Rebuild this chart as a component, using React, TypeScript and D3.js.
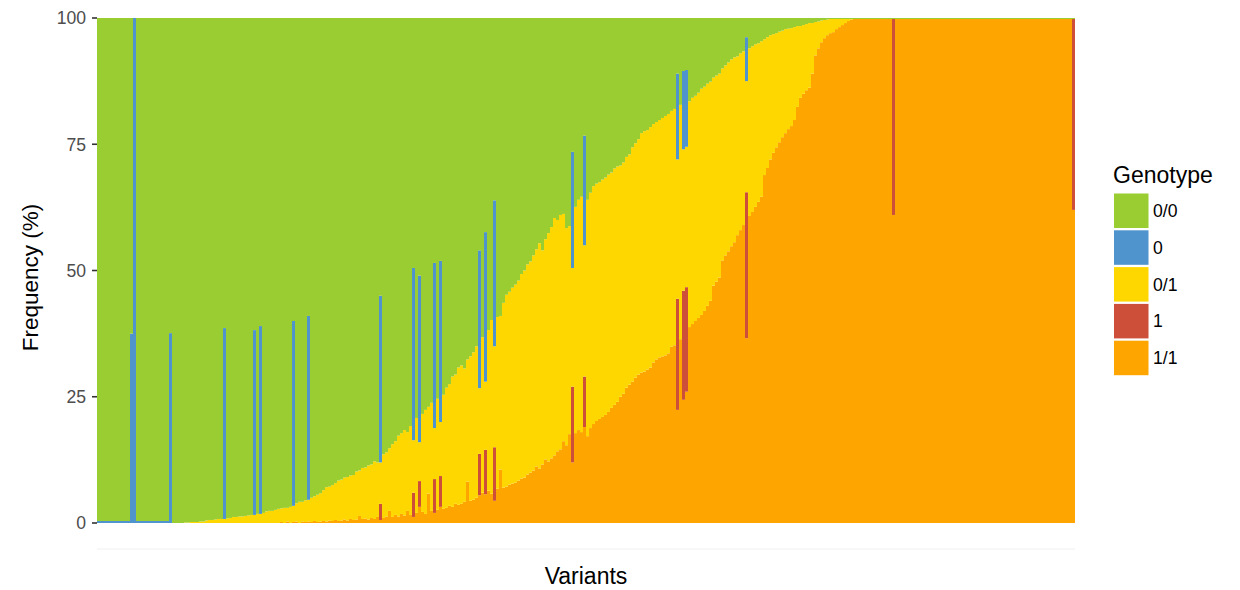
import React from "react";
import * as d3 from "d3";

// Per-variant genotype frequencies (%), variants sorted by alternate-allele load.
const variantCount = 326;

// 0/0 (homozygous reference) share per variant
const homRefPct = [
  99.6, 99.6, 99.6, 99.6, 99.6, 99.6, 99.6, 99.6, 99.6, 99.6,
  99.6, 62.5, 0, 99.6, 99.6, 99.6, 99.6, 99.6, 99.6, 99.6,
  99.6, 99.6, 99.6, 99.6, 62.4, 100, 100, 100, 100, 99.9,
  99.9, 99.8, 99.8, 99.8, 99.7, 99.7, 99.5, 99.4, 99.4, 99.3,
  99.2, 99.2, 61.4, 99.1, 99.0, 98.8, 98.8, 98.7, 98.7, 98.6,
  98.5, 98.4, 61.8, 98.2, 61.0, 98.0, 97.7, 97.6, 97.6, 97.4,
  97.2, 97.1, 97.0, 97.0, 96.8, 60.0, 96.1, 95.8, 95.8, 95.5,
  59.0, 95.0, 94.7, 94.4, 94.1, 93.5, 92.9, 92.8, 92.5, 92.1,
  91.6, 91.4, 91.0, 90.9, 90.6, 90.5, 89.8, 89.6, 89.1, 89.0,
  88.6, 88.4, 87.8, 88.0, 55.0, 86.4, 86.0, 85.2, 84.4, 83.8,
  82.7, 82.2, 81.6, 82.0, 80.8, 49.5, 79.2, 51.0, 78.4, 77.6,
  77.0, 76.2, 48.5, 75.4, 48.1, 74.6, 73.2, 72.5, 71.0, 70.6,
  69.2, 68.8, 69.4, 67.6, 67.0, 66.2, 65.0, 46.0, 63.2, 42.4,
  61.8, 59.8, 36.1, 59.2, 59.0, 56.4, 54.8, 54.2, 53.4, 52.8,
  52.0, 50.7, 50.0, 48.8, 48.2, 47.0, 45.8, 44.6, 46.0, 43.8,
  42.6, 41.4, 39.6, 40.0, 39.0, 38.8, 41.6, 41.2, 26.5, 37.4,
  36.0, 35.4, 23.3, 36.0, 34.6, 33.3, 32.8, 32.5, 32.0, 31.6,
  31.0, 30.6, 29.8, 29.4, 29.2, 28.6, 27.5, 27.0, 25.6, 24.8,
  24.0, 22.8, 22.4, 22.2, 21.6, 21.0, 20.6, 20.2, 19.8, 19.4,
  19.0, 18.4, 18.0, 11.0, 17.2, 10.5, 10.3, 16.5, 15.8, 15.4,
  14.8, 14.0, 13.6, 13.0, 12.6, 11.8, 11.4, 11.0, 10.0, 9.4,
  8.8, 8.2, 7.8, 7.6, 7.0, 6.6, 3.8, 6.0, 5.6, 5.2,
  5.0, 4.6, 4.2, 3.8, 3.4, 3.2, 3.0, 2.7, 2.5, 2.2,
  2.1, 2.0, 1.8, 1.6, 1.6, 1.4, 1.2, 1.0, 1.0, 0.8,
  0.7, 0.5, 0.4, 0.3, 0.2, 0.2, 0.2, 0.2, 0.2, 0.2,
  0.2, 0.2, 0.2, 0.2, 0.2, 0.2, 0.2, 0.2, 0.2, 0.2,
  0.2, 0.2, 0.2, 0.2, 0.2, 0.2, 0.2, 0.2, 0.2, 0.2,
  0.2, 0.2, 0.2, 0.2, 0.2, 0.2, 0.2, 0.2, 0.2, 0.2,
  0.2, 0.2, 0.2, 0.2, 0.2, 0.2, 0.2, 0.2, 0.2, 0.2,
  0.2, 0.2, 0.2, 0.2, 0.2, 0.2, 0.2, 0.2, 0.2, 0.2,
  0.2, 0.2, 0.2, 0.2, 0.2, 0.2, 0.2, 0.2, 0.2, 0.2,
  0.2, 0.2, 0.2, 0.2, 0.2, 0.2, 0.2, 0.2, 0.2, 0.2,
  0.2, 0.2, 0.2, 0.2, 0.2, 0.2,
];

// 1/1 (homozygous alternate) share per variant
const homAltPct = [
  0, 0, 0, 0, 0, 0, 0, 0, 0, 0,
  0, 0, 0, 0, 0, 0, 0, 0, 0, 0,
  0, 0, 0, 0, 0, 0, 0, 0, 0, 0,
  0, 0, 0, 0, 0, 0, 0, 0, 0, 0,
  0, 0, 0, 0, 0, 0, 0, 0, 0, 0,
  0, 0, 0, 0, 0, 0, 0, 0, 0, 0,
  0, 0.2, 0, 0.3, 0, 0.2, 0.3, 0, 0.3, 0.2,
  0.3, 0.2, 0.4, 0.2, 0.3, 0.4, 0.3, 0.5, 0.4, 0.6,
  0.4, 0.5, 0.7, 0.5, 0.8, 0.6, 0.7, 1.4, 0.8, 0.9,
  0.7, 1.0, 0.8, 1.2, 0.6, 1.0, 1.3, 2.4, 1.2, 1.6,
  1.3, 1.8, 1.5, 2.4, 1.6, 1.2, 2.0, 3.2, 2.2, 1.8,
  5.8, 2.4, 2.0, 2.6, 3.2, 2.8, 3.0, 3.4, 3.2, 3.8,
  3.6, 3.8, 4.2, 8.2, 4.4, 4.6, 5.0, 5.5, 6.0, 5.7,
  6.4, 5.8, 4.4, 6.8, 10.6, 7.0, 7.2, 7.6, 7.8, 8.0,
  8.4, 8.8, 9.0, 9.6, 10.0, 10.4, 11.2, 10.8, 11.6, 12.6,
  12.2, 12.8, 13.4, 14.2, 14.6, 16.2, 15.4, 17.6, 12.0, 17.8,
  18.4, 18.0, 19.0, 17.2, 18.8, 19.6, 20.2, 20.6, 21.0, 21.4,
  22.0, 22.8, 23.4, 24.0, 25.0, 25.6, 26.8, 27.4, 28.0, 28.8,
  29.4, 29.8, 30.0, 30.4, 30.8, 31.8, 32.4, 32.8, 33.0, 33.2,
  33.6, 34.9, 35.2, 22.4, 36.4, 24.4, 26.0, 38.8, 39.4, 40.0,
  40.6, 41.2, 42.0, 43.0, 44.0, 47.0, 47.8, 48.6, 52.0, 53.0,
  53.8, 54.8, 55.6, 57.0, 58.0, 59.0, 36.6, 60.8, 61.6, 62.6,
  63.6, 64.6, 68.9, 70.3, 72.0, 73.3, 74.4, 75.4, 76.4, 77.2,
  78.0, 78.6, 79.8, 82.4, 84.2, 85.0, 85.7, 86.2, 89.0, 92.6,
  94.0, 95.2, 96.0, 96.6, 97.0, 97.2, 97.8, 98.2, 98.6, 99.0,
  99.4, 99.7, 99.8, 99.8, 99.8, 99.8, 99.8, 99.8, 99.8, 99.8,
  99.8, 99.8, 99.8, 99.8, 99.8, 61.0, 99.8, 99.8, 99.8, 99.8,
  99.8, 99.8, 99.8, 99.8, 99.8, 99.8, 99.8, 99.8, 99.8, 99.8,
  99.8, 99.8, 99.8, 99.8, 99.8, 99.8, 99.8, 99.8, 99.8, 99.8,
  99.8, 99.8, 99.8, 99.8, 99.8, 99.8, 99.8, 99.8, 99.8, 99.8,
  99.8, 99.8, 99.8, 99.8, 99.8, 99.8, 99.8, 99.8, 99.8, 99.8,
  99.8, 99.8, 99.8, 99.8, 99.8, 99.8, 99.8, 99.8, 99.8, 99.8,
  99.8, 99.8, 99.8, 99.8, 99.8, 62.0,
];

// "0" (hemizygous reference) calls: variant positions and shares
const hemiRefBars = [
  0, 1, 2, 3, 4, 5, 6, 7, 8, 9, 10, 11, 12, 13, 14, 15, 16, 17, 18, 19, 20, 21, 22, 23,
  24, 42, 52, 54, 65, 70, 94, 105, 107, 112, 114, 127, 129, 132, 158, 162, 193, 195, 196, 216,
];
const hemiRefPct = [
  0.4, 0.4, 0.4, 0.4, 0.4, 0.4, 0.4, 0.4, 0.4, 0.4, 0.4, 37.5, 100, 0.4, 0.4, 0.4, 0.4, 0.4, 0.4, 0.4, 0.4, 0.4, 0.4, 0.4,
  37.6, 37.8, 36.6, 37.2, 36.6, 36.4, 33.0, 34.1, 33.0, 32.7, 31.9, 27.3, 29.6, 28.9, 23.0, 21.7, 17.0, 15.5, 15.2, 8.7,
];

// "1" (hemizygous alternate) calls: variant positions and shares
const hemiAltBars = [94, 105, 107, 112, 114, 127, 129, 132, 158, 162, 193, 195, 196, 216, 265, 325];
const hemiAltPct = [3.2, 4.8, 5.1, 6.7, 6.1, 8.2, 8.8, 10.6, 15.0, 10.0, 22.0, 21.6, 20.7, 28.9, 38.8, 37.8];

const genotypes = ["0/0", "0", "0/1", "1", "1/1"];
const genotypeColors = ["#9ACD32", "#4F94CD", "#FFD700", "#CD4F39", "#FFA500"];
const stackOrder = ["1/1", "1", "0/1", "0", "0/0"];
const yTicks = [0, 25, 50, 75, 100];

const FONT = "'Liberation Sans', Arial, Helvetica, sans-serif";

export default function App() {
  const width = 1240;
  const height = 590;
  const plotLeft = 97;
  const plotRight = 1075;
  const plotTop = 18;
  const plotBottom = 523;

  const ids = d3.range(variantCount).map((i) => `v${i + 1}`);
  const hemiRef = new Map(hemiRefBars.map((b, k) => [b, hemiRefPct[k]]));
  const hemiAlt = new Map(hemiAltBars.map((b, k) => [b, hemiAltPct[k]]));

  const rows = ids.map((id, i) => {
    const r00 = homRefPct[i] ?? 0;
    const r0 = hemiRef.get(i) ?? 0;
    const r1 = hemiAlt.get(i) ?? 0;
    const r11 = homAltPct[i] ?? 0;
    const r01 = Math.max(0, +(100 - r00 - r0 - r1 - r11).toFixed(2));
    return { id, "0/0": r00, "0": r0, "0/1": r01, "1": r1, "1/1": r11 } as any;
  });

  const x = d3.scaleBand<string>().domain(ids).range([plotLeft, plotRight]).padding(0);
  const y = d3.scaleLinear().domain([0, 100]).range([plotBottom, plotTop]);
  const color = d3.scaleOrdinal<string, string>().domain(genotypes).range(genotypeColors);

  const series = d3.stack<any>().keys(stackOrder)(rows);

  const legendX = 1114;
  const legendTop = 193.5;
  const legendStep = 36.8;
  const keySize = 34.5;

  return (
    <svg
      width={width}
      height={height}
      style={{ position: "absolute", left: 0, top: 0, background: "#ffffff" }}
      fontFamily={FONT}
    >
      {/* faint panel bottom edge */}
      <line x1={plotLeft} x2={plotRight} y1={549} y2={549} stroke="#f0f0f0" strokeWidth={1} />

      {series.map((s) => (
        <g key={s.key} fill={color(s.key)}>
          {s.map((d, i) => {
            const h = y(d[0]) - y(d[1]);
            if (h <= 0) return null;
            return (
              <rect
                key={i}
                x={x(ids[i])}
                y={y(d[1])}
                width={x.bandwidth()}
                height={h}
              />
            );
          })}
        </g>
      ))}

      {/* y axis */}
      {yTicks.map((t) => (
        <g key={t} transform={`translate(0,${y(t)})`}>
          <line x1={92} x2={97} stroke="#333333" strokeWidth={1.6} />
          <text x={86} dy="0.36em" textAnchor="end" fontSize={17.6} fill="#4d4d4d">
            {t}
          </text>
        </g>
      ))}

      <text
        transform={`translate(38,${(plotTop + 549) / 2 - 6}) rotate(-90)`}
        textAnchor="middle"
        fontSize={22.5}
        fill="#000000"
      >
        Frequency (%)
      </text>

      <text x={(plotLeft + plotRight) / 2} y={584} textAnchor="middle" fontSize={23} fill="#000000">
        Variants
      </text>

      {/* legend */}
      <text x={1113} y={183} fontSize={23} fill="#000000">
        Genotype
      </text>
      {genotypes.map((g, k) => (
        <g key={g} transform={`translate(${legendX},${legendTop + k * legendStep})`}>
          <rect width={keySize} height={keySize} fill={color(g)} />
          <text x={39} y={keySize / 2} dy="0.36em" fontSize={17.6} fill="#000000">
            {g}
          </text>
        </g>
      ))}
    </svg>
  );
}
